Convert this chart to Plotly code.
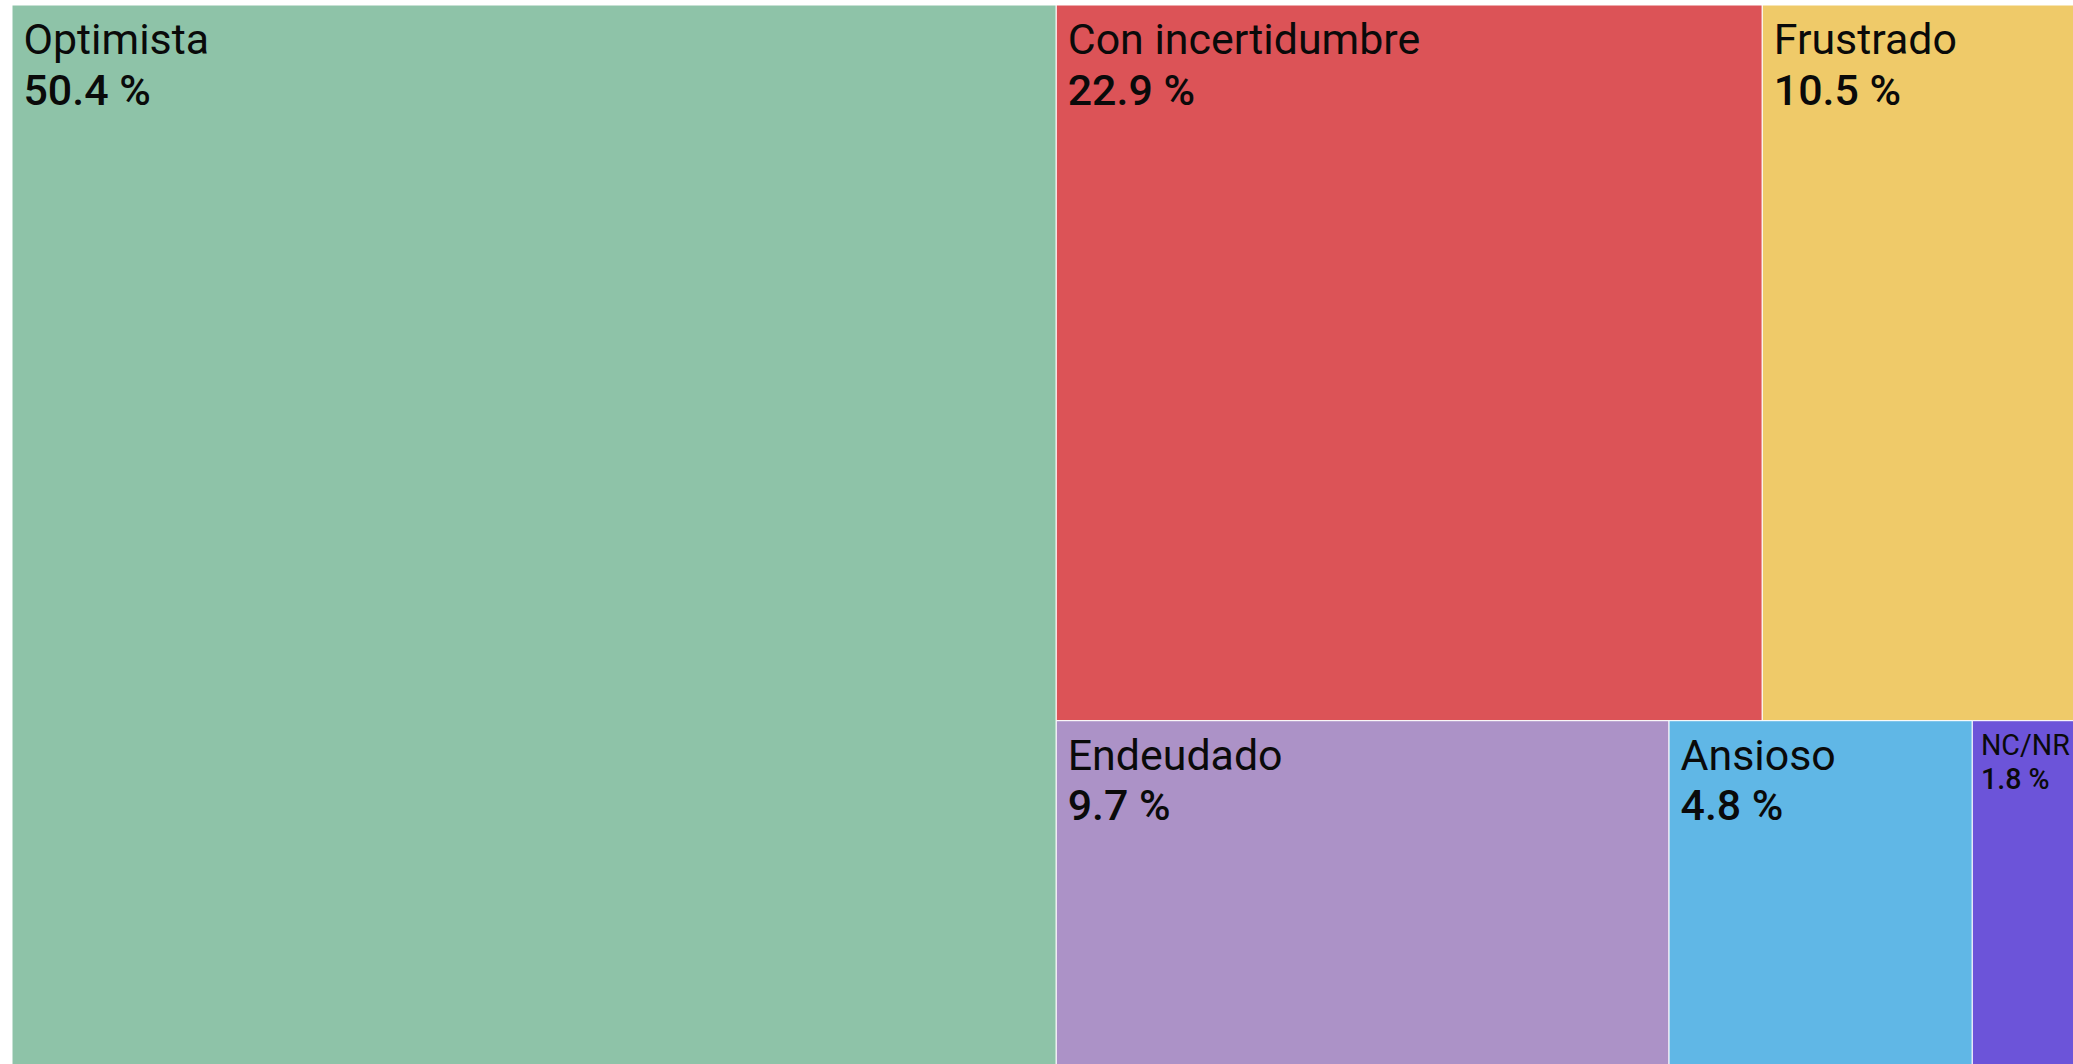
import plotly.graph_objects as go

labels = ["Optimista", "Con incertidumbre", "Frustrado", "Endeudado", "Ansioso", "NC/NR"]
values = [50.4, 22.9, 10.5, 9.7, 4.8, 1.8]
colors = ["#8EC3A8", "#DC5357", "#EFCA69", "#AC92C7", "#60B7E6", "#6C54D9"]
text_sizes = [39, 39, 39, 39, 39, 26]

indent = '<span style="font-size:128%">\u2006</span>'
template = (indent + '<span style="font-size:110%">%{label}</span><br>'
            + indent + '<span style="font-size:110%;font-weight:500">%{value} %</span>')

fig = go.Figure(go.Treemap(
    labels=labels,
    parents=[""] * len(labels),
    values=values,
    marker=dict(colors=colors, line=dict(color="white", width=1),
                pad=dict(t=0, l=0, r=0, b=0)),
    texttemplate=template,
    textposition="top left",
    textfont=dict(family="Roboto", size=text_sizes, color="#0a0a0a"),
    hoverinfo="label+value",
    sort=True,
    pathbar=dict(visible=False),
    tiling=dict(packing="squarify", squarifyratio=1.618, pad=0),
))
fig.update_layout(
    width=2086, height=1070,
    margin=dict(l=12, r=0, t=5, b=0),
    paper_bgcolor="white",
)
fig.write_html(
    "out.html",
    config={"displayModeBar": False},
    post_script="document.body.style.margin='0';"
                "document.body.style.overflow='hidden';"
                "document.documentElement.style.overflow='hidden';",
)
